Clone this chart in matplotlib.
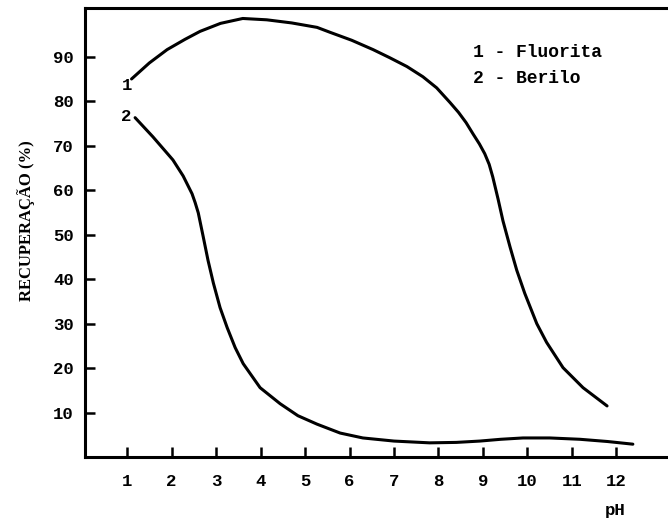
import numpy as np
import matplotlib
matplotlib.use('Agg')
import matplotlib.pyplot as plt

# curva 1 - Fluorita
ph_flu = [1.1, 1.5, 1.9, 2.3, 2.64, 3.1, 3.6, 4.14, 4.7, 5.27, 5.56, 6.05, 6.53, 6.9,
          7.29, 7.65, 7.96, 8.26, 8.45, 8.62, 8.78, 8.92, 9.04, 9.14, 9.22, 9.34, 9.45,
          9.61, 9.76, 9.94, 10.21, 10.43, 10.8, 11.25, 11.79]
rec_flu = [85.0, 88.6, 91.6, 93.9, 95.7, 97.5, 98.6, 98.3, 97.6, 96.6, 95.5, 93.7, 91.6, 89.8,
           87.8, 85.5, 83.0, 79.7, 77.5, 75.2, 72.6, 70.4, 68.2, 65.8, 63.0, 58.0, 53.1,
           47.2, 42.0, 36.8, 30.0, 25.8, 20.1, 15.6, 11.5]

# curva 2 - Berilo
ph_ber = [1.18, 1.58, 2.03, 2.26, 2.34, 2.46, 2.53, 2.6, 2.71, 2.82, 2.94, 3.09, 3.25,
          3.43, 3.61, 3.99, 4.44, 4.84, 5.27, 5.79, 6.3, 7.0, 7.8, 8.4, 8.93, 9.4, 9.9,
          10.5, 11.18, 11.8, 12.37]
rec_ber = [76.3, 72.0, 66.8, 63.2, 61.6, 59.2, 57.2, 54.9, 49.6, 44.2, 39.1, 33.6, 29.1,
           24.6, 21.0, 15.6, 12.0, 9.3, 7.4, 5.4, 4.3, 3.6, 3.2, 3.3, 3.6, 4.0, 4.3,
           4.3, 4.0, 3.5, 2.9]

xticks = list(range(1, 13))
yticks = list(range(10, 100, 10))

fonte = {'family': 'Liberation Mono', 'weight': 'bold', 'size': 12.5}
fonte_leg = {'family': 'Liberation Mono', 'weight': 'bold', 'size': 13}

fig = plt.figure(figsize=(6.68, 5.2), dpi=100)
ax = fig.add_axes([0.127, 0.121, 0.873, 0.864])

ax.plot(ph_flu, rec_flu, color='black', lw=2.2, solid_capstyle='round', solid_joinstyle='round')
ax.plot(ph_ber, rec_ber, color='black', lw=2.2, solid_capstyle='round', solid_joinstyle='round')

ax.text(0.99, 83.5, '1', ha='center', va='center', fontdict=fonte)
ax.text(0.99, 76.5, '2', ha='center', va='center', fontdict=fonte)
ax.text(8.78, 91, '1 - Fluorita', ha='left', va='center', fontdict=fonte_leg)
ax.text(8.78, 85, '2 - Berilo', ha='left', va='center', fontdict=fonte_leg)

ax.set_xlim(0.05, 13.16)
ax.set_ylim(0, 101)
ax.set_xticks(xticks)
ax.set_yticks(yticks)
ax.set_xticklabels([str(v) for v in xticks], fontdict=fonte)
ax.set_yticklabels([str(v) for v in yticks], fontdict=fonte)
ax.tick_params(axis='x', direction='in', length=7, width=1.8, pad=12)
ax.tick_params(axis='y', direction='in', length=7, width=1.8, pad=8)

ax.spines['right'].set_visible(False)
for s in ['top', 'left', 'bottom']:
    ax.spines[s].set_linewidth(2.2)

fig.text(615 / 668, 1 - 510 / 520, 'pH', ha='center', va='center', fontdict=fonte)
fig.text(26 / 668, 1 - 221 / 520, 'RECUPERAÇÃO (%)', rotation=90, ha='center',
         va='center', fontdict={'family': 'Liberation Serif', 'weight': 'bold', 'size': 12})

plt.savefig('out.png', dpi=100)
